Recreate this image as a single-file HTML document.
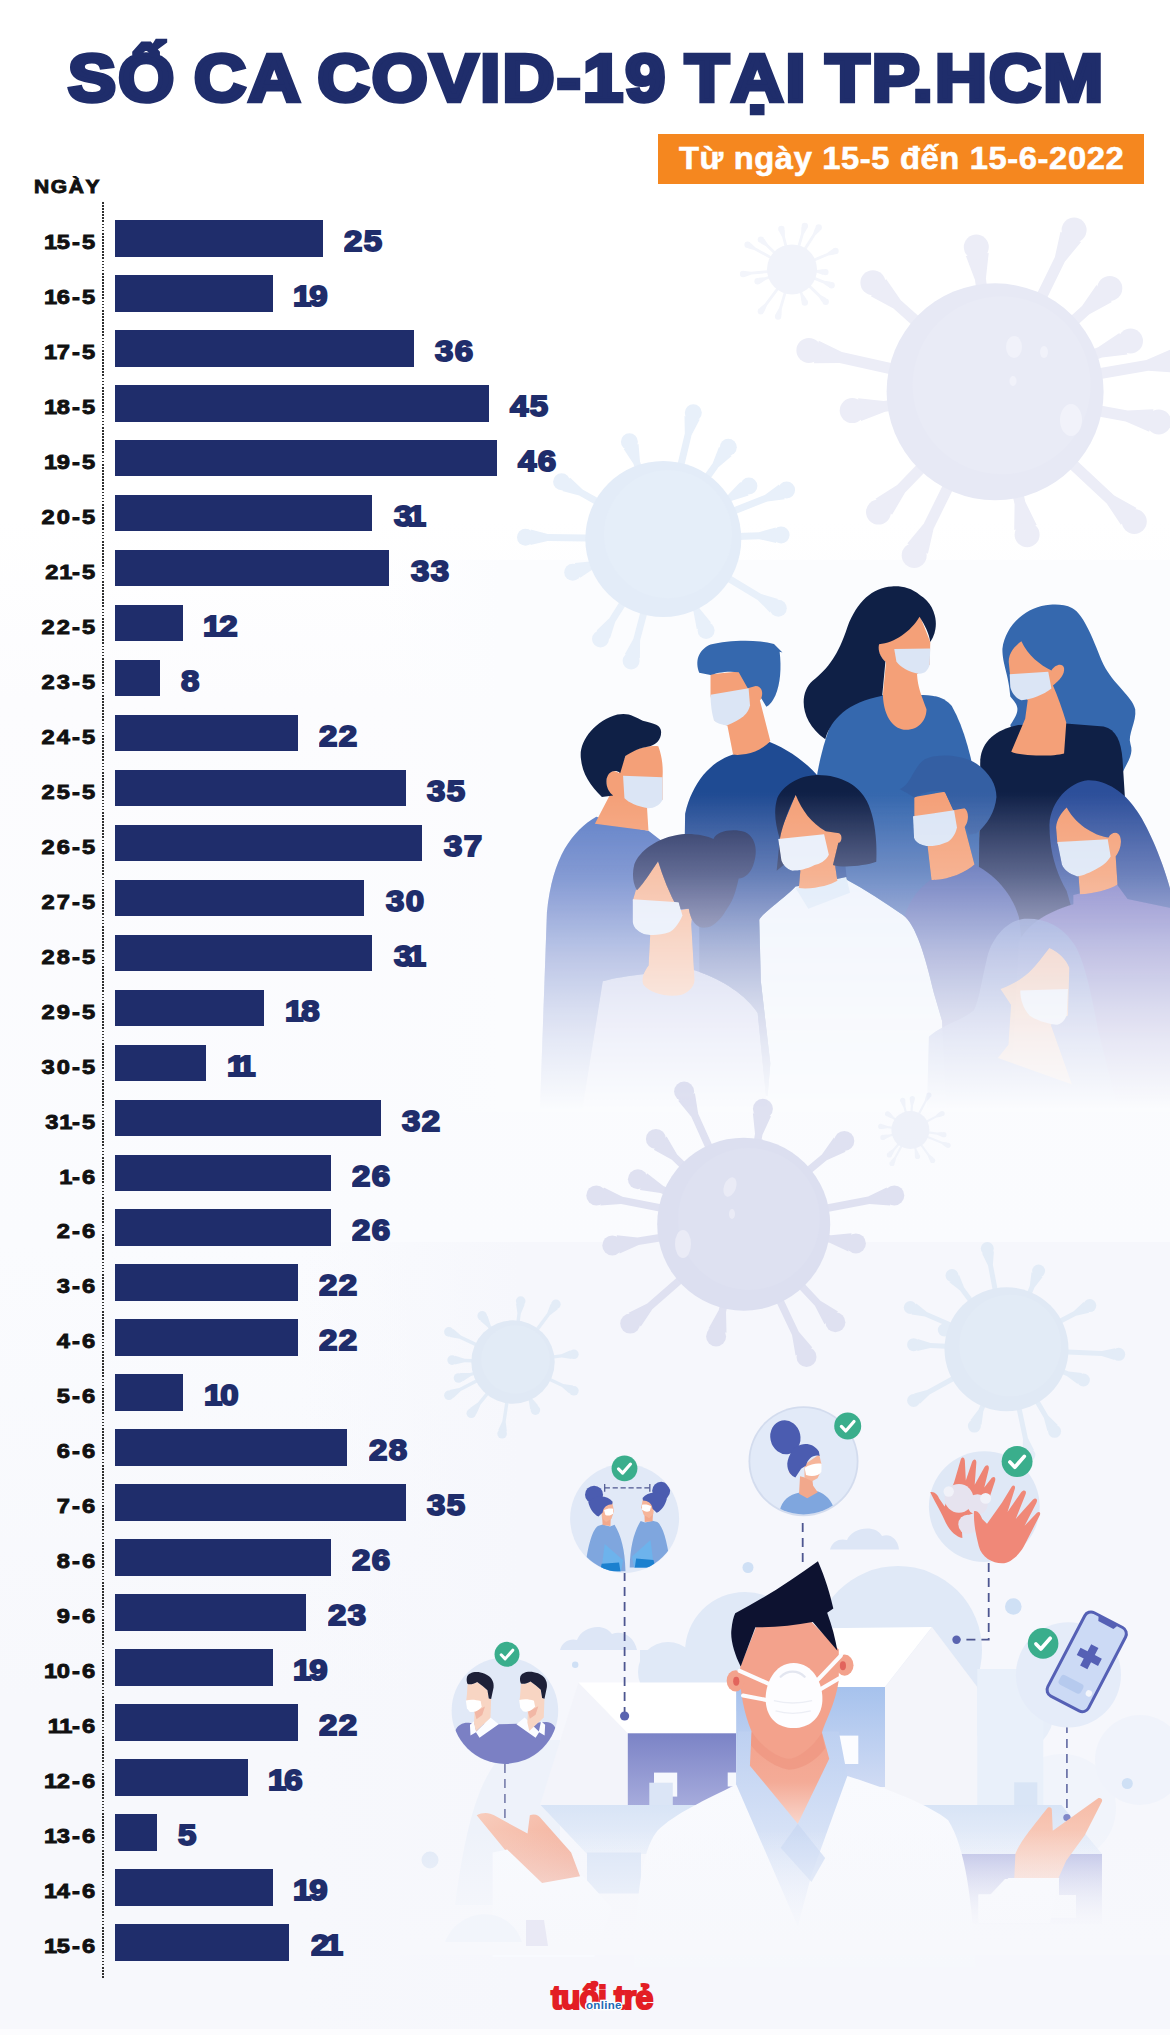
<!DOCTYPE html>
<html lang="vi"><head><meta charset="utf-8"><title>Số ca COVID-19 tại TP.HCM</title>
<style>
html,body{margin:0;padding:0}
body{width:1170px;height:2035px;position:relative;overflow:hidden;background:#f8f9fd;font-family:"Liberation Sans",sans-serif}
#bg{position:absolute;left:0;top:0;width:1170px;height:2035px;background:linear-gradient(to right,rgba(246,247,252,0) 300px,#f6f7fc 520px) 0 1242px/1170px 800px no-repeat,linear-gradient(to right,rgba(251,252,254,0) 380px,#fbfcfe 500px) 0 560px/1170px 552px no-repeat,linear-gradient(#ffffff 0px,#ffffff 520px,#fcfcfe 700px,#fafbfe 1242px,#f7f8fc 1700px,#f7f8fc 2035px)}
#art{position:absolute;left:0;top:0}
h1{position:absolute;left:68px;top:35.5px;margin:0;font-size:62.5px;line-height:76px;font-weight:bold;color:#1f2d6b;white-space:nowrap;transform-origin:0 0;transform:scale(1.15,1.08);-webkit-text-stroke:4.2px #1f2d6b;letter-spacing:2px;word-spacing:-4px}
#sub{position:absolute;left:658px;top:134.4px;width:485.5px;height:49.2px;background:#f5871f;color:#fff;font-weight:bold;font-size:32px;line-height:49.5px;text-align:center;white-space:nowrap}
#sub span{display:inline-block;-webkit-text-stroke:.6px #fff;letter-spacing:.6px;transform:scaleX(1.023);margin-left:2px}
#ngay{position:absolute;left:34px;top:175px;font-size:18.5px;line-height:24px;font-weight:bold;color:#111;letter-spacing:1.4px;-webkit-text-stroke:.9px #111;transform-origin:0 0;transform:scaleX(1.135)}
#axis{position:absolute;left:102.1px;top:202px;height:1777px;width:2px;background:repeating-linear-gradient(to bottom,#2e2e2e 0,#2e2e2e 1.7px,transparent 1.7px,transparent 3.08px)}
.d{position:absolute;left:0;width:97.2px;text-align:right;height:36px;line-height:44px;font-size:20.6px;font-weight:bold;color:#111;letter-spacing:1.8px;-webkit-text-stroke:.9px #111;white-space:nowrap;transform-origin:100% 50%;transform:scaleX(1.15)}
.b{position:absolute;left:115px;height:36.5px;background:#1f2d6b}
.v{position:absolute;height:36px;line-height:42.5px;font-size:30px;font-weight:bold;color:#1f2d6b;-webkit-text-stroke:1.9px #1f2d6b;letter-spacing:1.2px;white-space:nowrap;transform-origin:0 50%;transform:scaleX(1.1)}
.d i{font-style:normal;margin-left:-1px;margin-right:-2.2px}
.v i{font-style:normal;margin-left:-1px;margin-right:-3px}
.v i.s{margin-left:-5.5px}
#logo{position:absolute;left:551px;top:1971.5px;width:110px;height:50px;white-space:nowrap}
#logo b{position:absolute;left:0;top:0;font-size:34px;line-height:50px;color:#e31e24;-webkit-text-stroke:2.2px #e31e24;letter-spacing:-1px;transform-origin:0 0;transform:scaleX(.945)}
#logo i{position:absolute;left:35px;top:26.5px;text-shadow:1px 0 0 #fff,-1px 0 0 #fff,0 1px 0 #fff,0 -1px 0 #fff,1px 1px 0 #fff,-1px -1px 0 #fff,1px -1px 0 #fff,-1px 1px 0 #fff;font-size:11.5px;line-height:14px;font-weight:bold;font-style:normal;color:#1f6bb5;-webkit-text-stroke:2.5px #fff;paint-order:stroke fill;letter-spacing:.3px}
#btm{position:absolute;left:0;top:2029px;width:1170px;height:6px;background:#fcfcfe}
</style></head><body>
<div id="bg"></div>
<svg id="art" width="1170" height="2035" viewBox="0 0 1170 2035">
<defs>
<linearGradient id="fadeG" gradientUnits="userSpaceOnUse" x1="0" y1="795" x2="0" y2="1110">
<stop offset="0" stop-color="#fff"/><stop offset=".25" stop-color="#cfcfcf"/><stop offset=".5" stop-color="#7a7a7a"/><stop offset=".78" stop-color="#2c2c2c"/><stop offset="1" stop-color="#000"/></linearGradient>
<mask id="fadeM" maskUnits="userSpaceOnUse" x="500" y="500" width="700" height="700"><rect x="500" y="500" width="700" height="700" fill="url(#fadeG)"/></mask>
<linearGradient id="tintG" gradientUnits="userSpaceOnUse" x1="0" y1="790" x2="0" y2="1010">
<stop offset="0" stop-color="#8f90d2" stop-opacity="0"/><stop offset=".5" stop-color="#8f90d2" stop-opacity=".4"/><stop offset="1" stop-color="#a9a6dc" stop-opacity=".65"/></linearGradient>
<filter id="toWhite" color-interpolation-filters="sRGB"><feColorMatrix type="matrix" values="-1.6 0 0 0 1.3  -1.6 0 0 0 1.3  -1.6 0 0 0 1.3  0 0 0 1 0"/></filter>
<mask id="crowdM" maskUnits="userSpaceOnUse" x="500" y="500" width="700" height="700"><use href="#crowd" filter="url(#toWhite)"/></mask>
</defs>
<g id="viruses"><g fill="#ecedf7" stroke="#ecedf7" stroke-linecap="round"><path stroke="none" d="M1000.6,391.1 L985.9,278.5 L988.7,253.0 L965.9,255.9 L975.0,279.9 L989.6,392.5Z"/><circle cx="976.3" cy="247.0" r="12.5" stroke="none"/><path stroke="none" d="M1000.0,394.2 L1064.8,261.7 L1081.1,241.9 L1060.5,231.8 L1054.9,256.9 L990.2,389.4Z"/><circle cx="1074.1" cy="230.1" r="12.5" stroke="none"/><path stroke="none" d="M998.8,395.9 L1089.4,314.2 L1111.9,301.9 L1096.5,284.9 L1082.0,306.1 L991.4,387.7Z"/><circle cx="1109.8" cy="288.4" r="12.5" stroke="none"/><path stroke="none" d="M997.0,396.9 L1102.0,357.6 L1127.5,354.4 L1119.4,332.9 L1098.1,347.3 L993.2,386.7Z"/><circle cx="1130.5" cy="341.0" r="12.5" stroke="none"/><path stroke="none" d="M996.0,397.2 L1148.3,370.8 L1174.0,372.4 L1170.0,349.8 L1146.4,360.0 L994.2,386.4Z"/><circle cx="1179.4" cy="359.8" r="12.5" stroke="none"/><path stroke="none" d="M994.1,397.2 L1125.7,421.4 L1149.2,431.8 L1153.4,409.2 L1127.7,410.6 L996.1,386.4Z"/><circle cx="1158.7" cy="421.9" r="12.5" stroke="none"/><path stroke="none" d="M991.3,395.8 L1106.7,503.4 L1120.9,524.8 L1136.6,508.0 L1114.2,495.4 L998.9,387.8Z"/><circle cx="1134.3" cy="521.5" r="12.5" stroke="none"/><path stroke="none" d="M989.7,393.0 L1014.6,504.2 L1014.2,529.9 L1036.7,524.9 L1025.3,501.8 L1000.5,390.6Z"/><circle cx="1027.1" cy="534.7" r="12.5" stroke="none"/><path stroke="none" d="M990.2,389.4 L923.7,523.8 L907.3,543.6 L927.9,553.8 L933.6,528.7 L1000.0,394.2Z"/><circle cx="914.2" cy="555.4" r="12.5" stroke="none"/><path stroke="none" d="M991.1,388.0 L897.2,485.0 L875.5,498.8 L892.0,514.8 L905.1,492.6 L999.1,395.6Z"/><circle cx="878.5" cy="512.1" r="12.5" stroke="none"/><path stroke="none" d="M994.4,386.3 L883.7,400.9 L858.1,398.2 L861.1,421.0 L885.1,411.8 L995.8,397.3Z"/><circle cx="852.2" cy="410.6" r="12.5" stroke="none"/><path stroke="none" d="M996.3,386.4 L841.9,352.1 L818.8,340.8 L813.8,363.3 L839.5,362.9 L993.9,397.2Z"/><circle cx="808.9" cy="350.4" r="12.5" stroke="none"/><path stroke="none" d="M998.8,387.7 L900.8,300.3 L886.1,279.1 L870.8,296.3 L893.5,308.5 L991.4,395.9Z"/><circle cx="872.9" cy="282.7" r="12.5" stroke="none"/></g><circle cx="995.1" cy="391.8" r="108.5" fill="#e7e9f5"/><circle cx="1001.6" cy="385.3" r="89.0" fill="#e9ebf6"/>
<g fill="#e8f0fa" stroke="#e8f0fa" stroke-linecap="round"><path stroke="none" d="M666.7,539.7 L691.6,435.1 L699.7,419.6 L684.5,415.9 L684.8,433.5 L659.9,538.1Z"/><circle cx="693.3" cy="412.8" r="8.5" stroke="none"/><path stroke="none" d="M666.6,537.7 L640.0,461.4 L638.5,443.9 L623.7,449.1 L633.4,463.7 L660.0,540.1Z"/><circle cx="629.4" cy="441.7" r="8.5" stroke="none"/><path stroke="none" d="M666.2,540.9 L718.4,467.3 L731.7,455.9 L719.0,446.9 L712.7,463.2 L660.4,536.9Z"/><circle cx="728.3" cy="447.2" r="8.5" stroke="none"/><path stroke="none" d="M665.1,541.9 L731.9,500.7 L748.6,495.5 L740.4,482.1 L728.2,494.7 L661.5,535.9Z"/><circle cx="748.9" cy="486.1" r="8.5" stroke="none"/><path stroke="none" d="M664.6,542.2 L767.4,501.4 L784.8,499.2 L779.0,484.6 L764.8,494.9 L662.0,535.6Z"/><circle cx="786.6" cy="490.0" r="8.5" stroke="none"/><path stroke="none" d="M663.4,542.4 L759.1,539.2 L776.2,543.0 L775.7,527.4 L758.9,532.2 L663.2,535.4Z"/><circle cx="781.1" cy="535.0" r="8.5" stroke="none"/><path stroke="none" d="M661.5,541.9 L757.6,599.9 L769.9,612.4 L778.0,599.0 L761.2,593.9 L665.1,535.9Z"/><circle cx="778.3" cy="608.3" r="8.5" stroke="none"/><path stroke="none" d="M660.1,540.4 L693.6,612.0 L696.8,629.3 L711.0,622.6 L699.9,609.1 L666.5,537.4Z"/><circle cx="706.1" cy="630.6" r="8.5" stroke="none"/><path stroke="none" d="M659.9,538.0 L633.3,638.9 L624.8,654.2 L639.9,658.2 L640.1,640.6 L666.7,539.8Z"/><circle cx="631.1" cy="661.1" r="8.5" stroke="none"/><path stroke="none" d="M660.3,537.0 L609.3,618.3 L596.6,630.4 L609.9,638.7 L615.2,622.0 L666.3,540.8Z"/><circle cx="600.5" cy="638.9" r="8.5" stroke="none"/><path stroke="none" d="M662.1,535.6 L592.3,561.3 L574.8,563.1 L580.2,577.8 L594.7,567.9 L664.5,542.2Z"/><circle cx="572.7" cy="572.2" r="8.5" stroke="none"/><path stroke="none" d="M663.3,535.4 L547.7,534.0 L530.7,529.5 L530.5,545.1 L547.6,541.0 L663.3,542.4Z"/><circle cx="525.5" cy="537.2" r="8.5" stroke="none"/><path stroke="none" d="M665.0,535.8 L582.6,489.5 L569.9,477.4 L562.2,491.0 L579.2,495.6 L661.6,542.0Z"/><circle cx="561.6" cy="481.7" r="8.5" stroke="none"/></g><circle cx="663.3" cy="538.9" r="78.0" fill="#e3ecf8"/><circle cx="668.0" cy="534.2" r="64.0" fill="#e5eef9"/>
<g fill="#f3f5fb" stroke="#f3f5fb" stroke-linecap="round"><path stroke="none" d="M791.9,270.8 L817.0,272.8 L823.2,274.9 L823.7,269.0 L817.2,270.1 L792.1,268.0Z"/><circle cx="825.4" cy="272.1" r="3.2" stroke="none"/><path stroke="none" d="M791.5,270.7 L823.4,283.4 L828.8,287.2 L830.9,281.7 L824.4,280.8 L792.5,268.1Z"/><circle cx="831.6" cy="285.2" r="3.2" stroke="none"/><path stroke="none" d="M791.0,270.4 L818.7,296.9 L822.3,302.5 L826.4,298.2 L820.7,294.9 L793.0,268.4Z"/><circle cx="825.7" cy="301.7" r="3.2" stroke="none"/><path stroke="none" d="M790.7,269.9 L800.5,295.2 L801.4,301.8 L806.9,299.6 L803.1,294.2 L793.3,268.9Z"/><circle cx="804.8" cy="302.5" r="3.2" stroke="none"/><path stroke="none" d="M790.7,269.0 L779.1,308.1 L775.8,313.8 L781.5,315.5 L781.8,308.9 L793.3,269.8Z"/><circle cx="778.1" cy="316.5" r="3.2" stroke="none"/><path stroke="none" d="M790.9,268.6 L764.7,303.7 L759.7,307.9 L764.4,311.5 L767.0,305.4 L793.1,270.2Z"/><circle cx="760.9" cy="311.2" r="3.2" stroke="none"/><path stroke="none" d="M791.5,268.1 L765.1,277.2 L758.5,277.8 L760.4,283.4 L766.0,279.8 L792.5,270.7Z"/><circle cx="757.6" cy="281.2" r="3.2" stroke="none"/><path stroke="none" d="M791.9,268.0 L751.2,271.8 L744.7,270.9 L745.3,276.7 L751.5,274.6 L792.1,270.8Z"/><circle cx="743.1" cy="274.0" r="3.2" stroke="none"/><path stroke="none" d="M792.7,268.2 L755.5,247.5 L750.7,243.1 L747.8,248.2 L754.1,250.0 L791.3,270.6Z"/><circle cx="747.6" cy="244.7" r="3.2" stroke="none"/><path stroke="none" d="M793.0,268.4 L767.9,244.3 L764.3,238.8 L760.2,243.0 L765.9,246.3 L791.0,270.4Z"/><circle cx="760.9" cy="239.6" r="3.2" stroke="none"/><path stroke="none" d="M793.4,269.0 L784.9,236.6 L784.8,230.1 L779.1,231.5 L782.2,237.3 L790.6,269.8Z"/><circle cx="781.4" cy="228.9" r="3.2" stroke="none"/><path stroke="none" d="M793.3,269.8 L803.8,234.3 L807.1,228.6 L801.4,227.0 L801.1,233.5 L790.7,269.0Z"/><circle cx="804.8" cy="226.0" r="3.2" stroke="none"/><path stroke="none" d="M793.2,270.2 L815.4,235.2 L820.1,230.7 L815.2,227.5 L813.0,233.7 L790.8,268.6Z"/><circle cx="818.7" cy="227.5" r="3.2" stroke="none"/><path stroke="none" d="M792.5,270.7 L828.4,255.5 L834.9,254.4 L832.6,249.0 L827.3,252.9 L791.5,268.1Z"/><circle cx="835.5" cy="251.0" r="3.2" stroke="none"/></g><circle cx="792.0" cy="269.4" r="25.0" fill="#f1f3fa"/>
<g fill="#dfe1f1" stroke="#dfe1f1" stroke-linecap="round"><path stroke="none" d="M747.1,1222.7 L698.2,1113.7 L694.9,1093.2 L678.2,1100.8 L691.3,1116.8 L740.3,1225.7Z"/><circle cx="684.1" cy="1091.5" r="10" stroke="none"/><path stroke="none" d="M747.4,1224.8 L762.4,1135.1 L771.0,1116.2 L752.9,1113.2 L755.0,1133.8 L740.0,1223.6Z"/><circle cx="762.9" cy="1108.8" r="10" stroke="none"/><path stroke="none" d="M746.3,1221.5 L677.1,1154.4 L666.6,1136.5 L653.8,1149.7 L671.9,1159.7 L741.1,1226.9Z"/><circle cx="655.9" cy="1138.9" r="10" stroke="none"/><path stroke="none" d="M746.1,1227.1 L826.7,1160.3 L845.6,1151.8 L833.9,1137.6 L821.9,1154.6 L741.3,1221.3Z"/><circle cx="844.3" cy="1140.9" r="10" stroke="none"/><path stroke="none" d="M745.2,1220.7 L663.3,1186.0 L647.0,1173.2 L639.9,1190.1 L660.4,1192.9 L742.2,1227.7Z"/><circle cx="637.9" cy="1179.3" r="10" stroke="none"/><path stroke="none" d="M744.4,1220.5 L622.5,1196.7 L603.9,1187.5 L600.4,1205.5 L621.1,1204.0 L743.0,1227.9Z"/><circle cx="596.3" cy="1195.4" r="10" stroke="none"/><path stroke="none" d="M744.4,1227.9 L869.5,1203.9 L890.2,1205.5 L886.7,1187.4 L868.1,1196.6 L743.0,1220.5Z"/><circle cx="894.3" cy="1195.4" r="10" stroke="none"/><path stroke="none" d="M743.1,1220.5 L637.4,1237.5 L616.8,1235.3 L619.7,1253.5 L638.6,1244.9 L744.3,1227.9Z"/><circle cx="612.3" cy="1245.4" r="10" stroke="none"/><path stroke="none" d="M743.1,1227.9 L829.6,1242.7 L848.4,1251.5 L851.5,1233.3 L830.9,1235.3 L744.3,1220.5Z"/><circle cx="855.9" cy="1243.4" r="10" stroke="none"/><path stroke="none" d="M741.2,1221.4 L647.3,1303.6 L628.7,1312.7 L640.8,1326.5 L652.3,1309.3 L746.2,1227.0Z"/><circle cx="630.2" cy="1323.6" r="10" stroke="none"/><path stroke="none" d="M740.1,1223.3 L718.7,1310.2 L708.6,1328.4 L726.5,1332.7 L726.0,1312.0 L747.3,1225.1Z"/><circle cx="716.1" cy="1336.4" r="10" stroke="none"/><path stroke="none" d="M740.3,1225.8 L792.0,1335.0 L795.6,1355.4 L812.3,1347.5 L798.8,1331.8 L747.1,1222.6Z"/><circle cx="806.5" cy="1356.9" r="10" stroke="none"/><path stroke="none" d="M741.0,1226.8 L814.9,1305.8 L824.5,1324.2 L838.0,1311.6 L820.4,1300.7 L746.4,1221.6Z"/><circle cx="835.4" cy="1322.3" r="10" stroke="none"/></g><circle cx="743.7" cy="1224.2" r="86.5" fill="#dcdff0"/><circle cx="748.9" cy="1219.0" r="70.9" fill="#dee1f1"/>
<g fill="#e3ecf7" stroke="#e3ecf7" stroke-linecap="round"><path stroke="none" d="M514.7,1362.2 L520.8,1313.7 L524.7,1304.5 L516.0,1303.4 L517.4,1313.3 L511.3,1361.8Z"/><circle cx="520.7" cy="1301.1" r="4.8" stroke="none"/><path stroke="none" d="M514.4,1363.0 L549.9,1315.3 L557.8,1309.3 L550.7,1304.0 L547.1,1313.3 L511.6,1361.0Z"/><circle cx="555.9" cy="1304.3" r="4.8" stroke="none"/><path stroke="none" d="M514.4,1361.1 L490.6,1325.3 L487.5,1315.8 L480.2,1320.7 L487.7,1327.2 L511.6,1362.9Z"/><circle cx="482.2" cy="1315.8" r="4.8" stroke="none"/><path stroke="none" d="M513.7,1360.5 L460.9,1335.6 L453.4,1329.1 L449.6,1337.1 L459.5,1338.7 L512.3,1363.5Z"/><circle cx="448.9" cy="1331.9" r="4.8" stroke="none"/><path stroke="none" d="M513.2,1363.7 L561.7,1357.6 L571.6,1359.0 L570.5,1350.3 L561.3,1354.2 L512.8,1360.3Z"/><circle cx="573.9" cy="1354.3" r="4.8" stroke="none"/><path stroke="none" d="M513.1,1360.3 L464.6,1358.8 L455.1,1355.8 L454.8,1364.6 L464.5,1362.2 L512.9,1363.7Z"/><circle cx="452.1" cy="1360.1" r="4.8" stroke="none"/><path stroke="none" d="M512.3,1363.5 L561.9,1387.0 L569.4,1393.6 L573.2,1385.6 L563.3,1384.0 L513.7,1360.5Z"/><circle cx="573.9" cy="1390.8" r="4.8" stroke="none"/><path stroke="none" d="M512.2,1360.5 L459.2,1388.1 L449.4,1390.1 L453.5,1397.9 L460.8,1391.1 L513.8,1363.5Z"/><circle cx="448.9" cy="1395.3" r="4.8" stroke="none"/><path stroke="none" d="M511.5,1362.7 L528.6,1399.5 L530.2,1409.3 L538.2,1405.6 L531.7,1398.0 L514.5,1361.3Z"/><circle cx="535.4" cy="1410.1" r="4.8" stroke="none"/><path stroke="none" d="M511.3,1361.7 L502.3,1421.2 L498.2,1430.3 L506.9,1431.6 L505.7,1421.7 L514.7,1362.3Z"/><circle cx="502.1" cy="1433.8" r="4.8" stroke="none"/><path stroke="none" d="M511.7,1360.9 L477.9,1402.5 L469.7,1408.3 L476.6,1413.8 L480.5,1404.7 L514.3,1363.1Z"/><circle cx="471.3" cy="1413.3" r="4.8" stroke="none"/><path stroke="none" d="M512.5,1360.4 L470.0,1372.9 L460.0,1373.0 L462.5,1381.4 L471.0,1376.1 L513.5,1363.6Z"/><circle cx="458.5" cy="1378.0" r="4.8" stroke="none"/></g><circle cx="513.0" cy="1362.0" r="41.7" fill="#e0e9f5"/><circle cx="515.5" cy="1359.5" r="34.2" fill="#e2ebf6"/>
<g fill="#e3ecf7" stroke="#e3ecf7" stroke-linecap="round"><path stroke="none" d="M1009.0,1348.7 L992.9,1264.7 L993.9,1251.3 L982.1,1253.5 L988.0,1265.6 L1004.0,1349.7Z"/><circle cx="987.3" cy="1248.6" r="6.5" stroke="none"/><path stroke="none" d="M1008.8,1350.1 L1034.5,1287.6 L1042.6,1276.9 L1031.5,1272.3 L1029.8,1285.7 L1004.2,1348.3Z"/><circle cx="1038.6" cy="1271.0" r="6.5" stroke="none"/><path stroke="none" d="M1008.5,1347.7 L964.1,1287.6 L959.1,1275.1 L949.5,1282.2 L960.0,1290.6 L1004.5,1350.7Z"/><circle cx="952.0" cy="1275.5" r="6.5" stroke="none"/><path stroke="none" d="M1007.7,1351.4 L1076.0,1315.7 L1089.1,1312.7 L1083.6,1302.1 L1073.7,1311.2 L1005.3,1347.0Z"/><circle cx="1089.8" cy="1305.6" r="6.5" stroke="none"/><path stroke="none" d="M1007.5,1346.9 L926.8,1312.0 L916.3,1303.6 L911.5,1314.6 L924.9,1316.5 L1005.5,1351.5Z"/><circle cx="910.3" cy="1307.5" r="6.5" stroke="none"/><path stroke="none" d="M1006.4,1351.7 L1101.7,1356.1 L1114.5,1360.1 L1115.1,1348.2 L1101.9,1351.1 L1006.6,1346.7Z"/><circle cx="1118.7" cy="1354.3" r="6.5" stroke="none"/><path stroke="none" d="M1006.6,1346.7 L930.6,1343.0 L917.7,1338.9 L917.2,1350.9 L930.3,1348.0 L1006.4,1351.7Z"/><circle cx="913.6" cy="1344.7" r="6.5" stroke="none"/><path stroke="none" d="M1005.6,1351.5 L1066.8,1376.0 L1077.6,1384.1 L1082.0,1373.0 L1068.7,1371.4 L1007.4,1346.9Z"/><circle cx="1083.4" cy="1380.0" r="6.5" stroke="none"/><path stroke="none" d="M1005.3,1347.0 L927.1,1390.1 L914.1,1393.4 L919.9,1403.8 L929.6,1394.5 L1007.7,1351.4Z"/><circle cx="913.6" cy="1400.5" r="6.5" stroke="none"/><path stroke="none" d="M1004.3,1350.5 L1043.9,1417.9 L1047.4,1430.9 L1057.8,1424.9 L1048.2,1415.4 L1008.7,1347.9Z"/><circle cx="1054.6" cy="1431.3" r="6.5" stroke="none"/><path stroke="none" d="M1004.1,1349.7 L1023.0,1439.0 L1022.3,1452.4 L1034.0,1449.9 L1027.9,1437.9 L1008.9,1348.7Z"/><circle cx="1028.9" cy="1455.0" r="6.5" stroke="none"/><path stroke="none" d="M1004.2,1348.2 L978.6,1409.6 L970.4,1420.2 L981.5,1424.8 L983.3,1411.5 L1008.8,1350.2Z"/><circle cx="974.4" cy="1426.1" r="6.5" stroke="none"/><path stroke="none" d="M1007.2,1346.8 L961.2,1332.6 L949.8,1325.4 L946.3,1336.8 L959.7,1337.4 L1005.8,1351.6Z"/><circle cx="944.3" cy="1330.0" r="6.5" stroke="none"/></g><circle cx="1006.5" cy="1349.2" r="62.0" fill="#e0e9f5"/><circle cx="1010.2" cy="1345.5" r="50.8" fill="#e2ebf6"/>
<g fill="#f0f3fa" stroke="#f0f3fa" stroke-linecap="round"><path stroke="none" d="M910.2,1131.1 L937.0,1134.8 L942.0,1136.8 L942.7,1132.1 L937.3,1132.6 L910.6,1128.9Z"/><circle cx="943.9" cy="1134.7" r="2.6" stroke="none"/><path stroke="none" d="M910.0,1131.0 L941.4,1143.8 L945.7,1147.0 L947.5,1142.5 L942.2,1141.8 L910.8,1129.0Z"/><circle cx="948.1" cy="1145.3" r="2.6" stroke="none"/><path stroke="none" d="M909.5,1130.6 L927.7,1155.7 L929.8,1160.7 L933.6,1157.8 L929.5,1154.4 L911.3,1129.4Z"/><circle cx="932.6" cy="1160.5" r="2.6" stroke="none"/><path stroke="none" d="M909.3,1130.3 L914.7,1150.3 L914.8,1155.7 L919.4,1154.4 L916.8,1149.7 L911.5,1129.7Z"/><circle cx="917.5" cy="1156.5" r="2.6" stroke="none"/><path stroke="none" d="M909.4,1129.5 L894.3,1157.0 L890.6,1161.0 L894.8,1163.3 L896.2,1158.1 L911.4,1130.5Z"/><circle cx="892.0" cy="1163.5" r="2.6" stroke="none"/><path stroke="none" d="M909.6,1129.3 L892.9,1149.0 L888.5,1152.1 L892.2,1155.2 L894.6,1150.4 L911.2,1130.7Z"/><circle cx="889.4" cy="1154.9" r="2.6" stroke="none"/><path stroke="none" d="M910.1,1128.9 L889.1,1134.6 L883.7,1134.7 L885.0,1139.3 L889.7,1136.7 L910.7,1131.1Z"/><circle cx="882.9" cy="1137.4" r="2.6" stroke="none"/><path stroke="none" d="M910.5,1128.9 L887.5,1126.1 L882.5,1124.2 L881.9,1128.9 L887.2,1128.3 L910.3,1131.1Z"/><circle cx="880.7" cy="1126.4" r="2.6" stroke="none"/><path stroke="none" d="M911.0,1129.1 L893.8,1116.9 L890.3,1112.8 L887.5,1116.7 L892.5,1118.7 L909.8,1130.9Z"/><circle cx="887.6" cy="1113.8" r="2.6" stroke="none"/><path stroke="none" d="M911.5,1129.7 L905.5,1106.6 L905.4,1101.3 L900.8,1102.5 L903.4,1107.2 L909.3,1130.3Z"/><circle cx="902.7" cy="1100.3" r="2.6" stroke="none"/><path stroke="none" d="M911.5,1130.1 L913.0,1105.5 L914.6,1100.4 L909.8,1100.1 L910.8,1105.4 L909.3,1129.9Z"/><circle cx="912.3" cy="1098.7" r="2.6" stroke="none"/><path stroke="none" d="M911.4,1130.5 L926.7,1101.5 L930.3,1097.5 L926.1,1095.2 L924.8,1100.4 L909.4,1129.5Z"/><circle cx="928.9" cy="1095.0" r="2.6" stroke="none"/><path stroke="none" d="M910.9,1131.0 L936.6,1117.6 L941.8,1116.4 L939.6,1112.1 L935.5,1115.7 L909.9,1129.0Z"/><circle cx="942.1" cy="1113.5" r="2.6" stroke="none"/></g><circle cx="910.4" cy="1130.0" r="19.0" fill="#eef1f9"/>
<g fill="#f1f2fa"><ellipse cx="1014" cy="347" rx="8" ry="11"/><ellipse cx="1044" cy="352" rx="4" ry="6"/><ellipse cx="1071" cy="420" rx="11" ry="16"/><ellipse cx="1013" cy="381" rx="3.5" ry="5"/></g><g fill="#eaebf6"><ellipse cx="730" cy="1187" rx="6" ry="10" transform="rotate(20 730 1187)"/><ellipse cx="683" cy="1244" rx="8" ry="14"/><ellipse cx="732" cy="1214" rx="3" ry="5"/></g></g>
<g mask="url(#fadeM)">
<g id="crowd">
<!-- P2 dark-hair woman : zoom origin (800,570) scale .3162 -->
<g transform="translate(800,570) scale(.31624)">
<path fill="#3568ae" d="M250,395 C190,400 130,420 100,480 C70,560 50,640 40,760 L20,1400 L600,1400 L560,700 C545,600 520,500 480,430 C455,400 420,395 375,395Z"/>
<path fill="#f4a078" d="M375,135 C350,180 300,220 240,225 C245,260 262,285 272,292 L262,395 C265,470 300,505 335,505 C380,505 400,470 400,440 C385,400 372,370 370,330 L410,300 L412,228Z"/>
<path fill="#0f2046" d="M290,52 C230,55 180,100 150,180 C120,270 90,310 40,350 C-5,390 0,480 80,535 C100,470 150,420 260,398 L270,290 C255,275 245,255 250,235 C300,230 350,195 378,148 C395,175 408,200 412,228 C445,180 430,110 380,80 C350,55 320,50 290,52Z"/>
<path fill="#dbe5f5" d="M298,250 L412,248 L410,300 C405,320 390,330 375,328 C345,322 318,308 305,290Z"/>
</g>
<!-- P3 blue long-hair woman -->
<g transform="translate(800,570) scale(.31624)">
<path fill="#3568ae" d="M790,110 C720,115 650,170 640,250 C640,300 660,330 665,400 C690,430 700,440 665,490 L700,620 L1020,640 C1040,600 1055,580 1045,550 C1035,520 1065,480 1060,440 C1050,400 990,360 960,300 C930,230 900,140 860,120 C840,110 815,108 790,110Z"/>
<path fill="#0f2046" d="M570,600 C575,540 620,505 690,490 L840,485 L960,495 C1000,505 1015,540 1020,600 L1030,760 L1040,1400 L560,1400Z"/>
<path fill="#f4a078" d="M700,225 C680,240 660,260 660,290 L665,340 L720,412 L712,470 L668,575 C700,590 800,590 835,580 L842,482 C830,440 815,400 800,365 C820,350 838,330 835,310 C830,292 805,300 795,318 C760,300 720,270 700,225Z"/>
<path fill="#dbe5f5" d="M663,330 L785,322 L795,375 C770,395 730,410 700,412 C680,405 668,385 665,370Z"/>
</g>
<!-- P1 blue-hair man : zoom origin (530,560) scale .2821 -->
<g transform="translate(530,560) scale(.28205)">
<path fill="#1f4b93" d="M720,690 C640,715 575,790 550,900 L535,1900 L1200,1900 L1100,900 C1060,780 960,690 850,645Z"/>
<path fill="#f4a078" d="M640,405 L740,395 L770,440 C790,440 815,430 825,450 C832,475 825,490 815,497 L852,642 C820,680 760,695 720,690 L700,588 L655,570 L640,480Z"/>
<path fill="#3568ae" d="M600,400 C585,360 595,320 640,300 C700,285 800,280 865,298 L895,328 L885,325 C892,380 888,440 870,480 C860,500 850,515 838,520 L820,490 C828,470 822,448 800,447 L772,455 L740,398 C700,392 660,400 640,408Z"/>
<path fill="#dbe5f5" d="M640,478 L775,455 L780,515 C775,545 750,565 700,586 C680,585 660,578 652,568 C645,545 640,510 640,478Z"/>
</g>
<!-- P5 blue-hair man centre : origin (860,740) scale .26496 -->
<g transform="translate(860,740) scale(.26496)">
<path fill="#4a62ad" d="M270,525 C210,570 175,620 160,700 L120,1500 L700,1500 L600,670 C580,600 530,520 430,468Z"/>
<path fill="#f4a078" d="M205,215 L320,195 L352,262 C375,250 400,250 410,275 C415,300 405,320 395,328 L432,470 C400,500 330,530 270,528 L255,400 L205,370Z"/>
<path fill="#345fa3" d="M150,185 C190,170 200,110 235,80 C270,50 380,50 440,90 C490,125 515,170 515,215 C510,270 480,320 440,352 L412,358 L398,325 C412,300 410,270 395,258 L352,265 L322,198 C290,185 240,195 205,218 C180,200 165,195 150,185Z"/>
<path fill="#dbe5f5" d="M200,288 L355,265 L366,330 C360,360 340,380 330,385 C300,398 270,402 250,400 C225,395 208,385 204,368Z"/>
</g>
<!-- P6 blue hair woman right -->
<g transform="translate(860,740) scale(.26496)">
<path fill="#2c4f9a" d="M860,152 C790,160 720,230 715,320 C715,420 740,500 780,570 L800,640 L1200,660 L1170,560 C1140,450 1080,310 1040,260 C1000,200 930,150 860,152Z"/>
<path fill="#7d7cc4" d="M805,585 L970,545 L1010,600 L1200,640 L1200,1500 L560,1500 L600,760 C630,700 700,650 805,620Z"/>
<path fill="#f4a078" d="M780,255 C760,275 742,300 740,330 L745,390 L825,515 L830,582 C880,580 940,565 972,545 L965,440 C980,420 990,390 982,365 C975,345 950,345 938,368 C900,365 820,330 780,255Z"/>
<path fill="#dbe5f5" d="M745,385 L935,375 L946,440 C930,465 915,475 900,482 C870,500 840,512 820,515 C790,505 770,490 762,470Z"/>
</g>
<!-- P4 dark-hair man left : origin (530,560) scale .28205 for head; -->
<g transform="translate(530,560) scale(.28205)">
<path fill="#5b7ec6" d="M235,910 C150,960 80,1050 60,1250 L30,2100 L600,2100 L600,1100 L420,960 L370,950Z"/>
<path fill="#f4a078" d="M340,690 C370,670 420,655 455,660 C470,700 472,740 470,770 L470,850 L415,880 L420,960 L230,935 L285,830 C270,810 268,790 272,770 C280,745 300,745 315,755Z"/>
<path fill="#0f2046" d="M180,700 C175,640 230,570 310,548 C350,540 370,555 400,570 C440,580 465,585 465,610 C465,640 445,655 425,660 C390,665 360,680 338,695 L320,755 C300,740 278,750 272,775 C268,800 278,822 295,835 L255,840 C215,800 185,760 180,700Z"/>
<path fill="#dbe5f5" d="M330,765 L470,770 L470,850 C460,870 440,880 420,880 C380,875 350,860 335,845Z"/>
</g>
<!-- P8 bob-hair woman white top : origin (530,760) scale .31624 -->
<g transform="translate(530,760) scale(.31624)">
<path fill="#eef3fc" d="M840,400 C790,450 740,480 725,505 L730,700 L760,960 L740,1200 L1320,1200 L1303,825 L1277,737 C1250,620 1220,520 1179,490 C1120,450 1060,410 1000,378Z"/>
<path fill="#dde9f8" d="M840,405 L1000,370 L1012,420 L880,470Z"/>
<path fill="#f4a078" d="M840,110 L790,230 L790,260 L855,350 L850,405 C900,410 950,395 972,382 L965,335 L990,235 L920,210Z"/>
<path fill="#0f2046" d="M900,48 C850,50 800,80 782,120 C770,160 775,200 790,250 C800,200 820,150 840,110 C860,160 890,200 935,225 L978,232 C990,240 985,262 975,262 L958,332 C990,342 1060,335 1095,322 C1098,250 1090,180 1065,130 C1040,80 980,45 900,48Z M790,250 L780,350 L805,330Z"/>
<path fill="#e8eef9" d="M785,250 L930,235 L945,300 C935,320 915,330 900,332 C875,345 850,350 830,350 C810,345 800,330 795,318Z"/>
</g>
<!-- P7 bun girl -->
<g transform="translate(530,760) scale(.31624)">
<path fill="#c3c8ea" d="M230,700 C300,680 420,670 520,665 C600,690 680,740 720,800 L760,1200 L150,1200Z"/>
<path fill="#f6b596" d="M405,320 L335,410 L325,445 L380,555 L375,650 C360,670 352,690 358,710 C380,740 440,752 480,742 C510,730 522,710 520,690 L510,520 L515,468 L470,475Z"/>
<path fill="#1b2a55" d="M330,330 C345,290 400,245 480,235 C520,232 560,240 580,250 C590,225 640,215 680,228 C715,245 722,290 705,335 C695,360 680,372 660,375 C650,420 640,450 620,475 C600,510 575,530 555,530 C530,532 510,515 502,470 L468,472 C440,420 420,370 405,320 C385,350 360,390 338,412 C325,390 322,360 330,330Z"/>
<path fill="#e4ebf8" d="M325,440 L470,450 L482,492 C470,520 455,538 440,545 C410,555 380,555 360,550 C335,540 325,525 325,510Z"/>
</g>
<!-- P9 faded woman bottom right -->
<g transform="translate(860,740) scale(.26496)" opacity=".9">
<path fill="#7f97d3" d="M620,675 C560,680 500,740 480,820 C460,900 450,980 430,1020 C380,1060 300,1080 260,1120 L250,1500 L1000,1500 L900,1100 C880,1000 850,820 800,760 C760,700 690,670 620,675Z"/>
<path fill="#f8c4a8" d="M715,785 C670,840 640,900 530,940 L570,1000 L560,1150 L520,1200 L800,1300 L720,1075 L785,1040 L790,860 C780,830 750,800 715,785Z"/>
<path fill="#eef2fb" d="M605,945 L785,940 L780,1040 C770,1065 755,1075 740,1075 C700,1070 660,1055 640,1040 C615,1010 605,980 605,945Z"/>
</g>
</g>

<rect x="500" y="740" width="700" height="400" fill="url(#tintG)" mask="url(#crowdM)"/>
</g>
<defs>
<linearGradient id="gPurple" x1="0" y1="0" x2="0" y2="1"><stop offset="0" stop-color="#7b83c6"/><stop offset="1" stop-color="#a6abdc"/></linearGradient>
<linearGradient id="gBlueB" x1="0" y1="0" x2="0" y2="1"><stop offset="0" stop-color="#a6c2ed"/><stop offset="1" stop-color="#d0dbf4"/></linearGradient>
<linearGradient id="gBand" x1="0" y1="0" x2="0" y2="1"><stop offset="0" stop-color="#d8e4f6"/><stop offset="1" stop-color="#e9effa"/></linearGradient>
<linearGradient id="gPur2" x1="0" y1="0" x2="0" y2="1"><stop offset="0" stop-color="#bbbfe5"/><stop offset="1" stop-color="#f1f2fa"/></linearGradient>
<linearGradient id="gFace" x1="0" y1="0" x2="0" y2="1"><stop offset="0" stop-color="#f3a28c"/><stop offset=".55" stop-color="#f4ab97"/><stop offset="1" stop-color="#f9d6cc"/></linearGradient>
<linearGradient id="gHandL" x1="0" y1="0" x2="1" y2="1"><stop offset="0" stop-color="#f8cdbd"/><stop offset="1" stop-color="#f2a690"/></linearGradient>
<linearGradient id="gHandR" x1="0" y1="0" x2="0" y2="1"><stop offset="0" stop-color="#f6bba6"/><stop offset="1" stop-color="#f9d8cd"/></linearGradient>
<linearGradient id="gCoat" x1="0" y1="0" x2="0" y2="1"><stop offset="0" stop-color="#f9fafe"/><stop offset="1" stop-color="#f6f8fc"/></linearGradient>
<linearGradient id="gShirt" x1="0" y1="0" x2="0" y2="1"><stop offset="0" stop-color="#bdd0f1"/><stop offset="1" stop-color="#eef2fb"/></linearGradient>
<linearGradient id="gBottom" gradientUnits="userSpaceOnUse" x1="0" y1="1830" x2="0" y2="1945"><stop offset="0" stop-color="#f7f8fc" stop-opacity="0"/><stop offset="1" stop-color="#f7f8fc" stop-opacity="1"/></linearGradient>
<symbol id="chk" viewBox="-16 -16 32 32" overflow="visible"><circle r="15" fill="#3aae8c"/><path d="M-7,0.5 L-2.2,5.5 L7,-5" fill="none" stroke="#fff" stroke-width="3.6" stroke-linecap="round" stroke-linejoin="round"/></symbol>
</defs>
<g id="scene">
<!-- clouds -->
<g fill="#e0e9f7">
<circle cx="898" cy="1650" r="84"/>
<circle cx="745" cy="1652" r="60"/>
<circle cx="668" cy="1672" r="30"/>
<rect x="640" y="1650" width="340" height="60"/>
<path d="M560,1650 C562,1642 570,1638 577,1640 C582,1626 604,1622 612,1634 C622,1630 634,1636 637,1650Z" fill="#dde6f6"/>
<path d="M830,1549.5 C832,1541 840,1538 847,1540 C852,1527 876,1524 882,1536 C891,1533 898,1540 899,1549.5Z" fill="#dde6f6"/>
</g>
<circle cx="1012" cy="1712" r="42" fill="#e7eef9"/>
<circle cx="1062" cy="1808" r="54" fill="#f1f4fb"/>
<circle cx="1140" cy="1760" r="45" fill="#f0f3fb"/>
<path d="M455,1905 C470,1790 490,1760 520,1740 L560,1740 L560,1905Z" fill="#eef2fa"/>
<!-- small dots -->
<g fill="#cfe0f5"><circle cx="748" cy="1567.5" r="5.5"/><circle cx="1013.3" cy="1606.5" r="8.3"/><circle cx="1127.3" cy="1783.5" r="5.5"/><circle cx="575.2" cy="1664.7" r="3.2"/><circle cx="430" cy="1860" r="8.5" fill="#dfe8f6"/></g>
<!-- houses -->
<path d="M578.4,1682.5 L627.8,1733 L627.8,1805 L540,1805 Z" fill="#f3f4fa"/>
<path d="M578.4,1682.5 L736.2,1682.5 L736.2,1733.3 L627.8,1733.3Z" fill="#ffffff"/>
<rect x="627.8" y="1733.3" width="108.4" height="71.7" fill="url(#gPurple)"/>
<rect x="654" y="1772.6" width="23.2" height="24" fill="#f6f8fd"/>
<rect x="649.3" y="1782.7" width="23.5" height="22.3" fill="#dbe5f6"/>
<rect x="727.7" y="1772.5" width="8.5" height="14" fill="#f6f8fd"/>
<rect x="736.2" y="1687" width="148.8" height="100" fill="url(#gBlueB)"/>
<rect x="834.7" y="1735.6" width="23.6" height="28.4" fill="#fbfcff"/>
<path d="M800,1628.5 L932,1627 L885,1687 L753,1687Z" fill="#ffffff"/>
<path d="M932,1627 L977.3,1687 L977.3,1805 L885,1805 L885,1687Z" fill="#f4f5fa"/>
<rect x="977.3" y="1669" width="66" height="136" fill="#e9f0fa"/>
<rect x="1014.2" y="1782.3" width="23.1" height="24" fill="#d9e5f6"/>
<!-- base bands -->
<path d="M540.6,1805 L1061.5,1805 L1102,1854 L587,1854Z" fill="url(#gBand)"/>
<rect x="587" y="1852.5" width="54" height="41" fill="#d9e4f6"/>
<rect x="960" y="1854" width="142" height="70" fill="url(#gPur2)"/>
<path d="M978.5,1895 L990,1895 L1005,1879 L1059,1879 L1059,1895 L1076,1895 L1076,1918 L978.5,1918Z" fill="#f8f9fd"/>
<!-- dashed connectors -->
<g fill="none" stroke="#4d5690" stroke-width="1.8" stroke-dasharray="9 6">
<path d="M624.6,1572 L624.6,1712"/>
<path d="M802.7,1523 L802.7,1563"/>
<path d="M988.7,1563 L988.7,1639.7 L960,1639.7"/>
<path d="M1066.9,1709 L1066.9,1814" stroke="#7077ab"/>
<path d="M504.9,1764 L504.9,1856" stroke="#8389b3"/>
</g>
<g fill="#5a64b0"><circle cx="624.6" cy="1716" r="4.6"/><circle cx="956.5" cy="1639.7" r="4.2"/><circle cx="1066.9" cy="1817.5" r="3.6" fill="#8088c8"/></g>
</g>
<g id="doc">
<!-- coat: zoom origin (620,1540) scale 1/2.925 -->
<g transform="translate(620,1540) scale(.34188)">
<path d="M340,715 C250,760 160,800 110,850 C70,900 50,1000 40,1250 L1040,1250 C1030,1050 1010,900 960,820 C900,770 760,720 665,690 L520,830Z" fill="url(#gCoat)"/>
<path d="M345,560 L340,715 L520,1130 L560,980 L665,690 L640,560Z" fill="url(#gShirt)"/>
<path d="M520,830 L470,900 L560,1000 L600,930Z" fill="#c9d8f3" opacity=".8"/>
<!-- neck + face -->
<path d="M385,560 L380,660 L520,830 L612,640 L590,560Z" fill="url(#gFace)"/>
<path d="M400,250 L560,240 L640,320 L640,410 C630,480 600,530 590,565 C560,610 520,640 490,640 C450,630 410,600 385,560 C360,500 348,430 352,370Z" fill="#f3a28c"/>
<path d="M385,560 C410,600 450,630 490,640 C520,640 560,610 590,565 L600,610 C570,650 530,670 495,672 C450,665 405,630 383,600Z" fill="#ee9580" opacity=".7"/>
<ellipse cx="338" cy="412" rx="26" ry="31" fill="#f3a28c"/><ellipse cx="340" cy="413" rx="9" ry="13" fill="#e2645c"/>
<ellipse cx="657" cy="366" rx="26" ry="31" fill="#f3a28c"/><ellipse cx="652" cy="368" rx="9" ry="13" fill="#e2645c"/>
<!-- hair -->
<path d="M579,62 C600,110 615,160 624,200 L606,213 C620,250 630,290 636,324 L564,240 C510,250 450,256 396,255 L353,370 C335,335 322,290 326,262 C328,240 332,225 337,214 C420,172 500,118 579,62Z" fill="#0d1230"/>
<!-- mask -->
<g fill="none" stroke="#fcfcfe" stroke-width="12" stroke-linecap="round"><path d="M445,425 L350,383"/><path d="M440,470 L360,455"/><path d="M568,420 L646,338"/><path d="M580,440 L640,405"/></g>
<path d="M508,360 C565,360 594,420 592,470 C589,522 552,550 508,550 C462,550 429,522 426,470 C424,420 452,360 508,360Z" fill="#fdfdff"/>
<path d="M470,400 C490,380 520,380 540,400" fill="none" stroke="#e3e6f0" stroke-width="7" stroke-linecap="round"/>
<path d="M450,470 C490,480 520,480 562,470 M455,500 C490,510 520,510 558,500" fill="none" stroke="#eceef5" stroke-width="4"/>
</g>
<!-- left hand + sleeve : origin (420,1620) scale 1/3.441 -->
<g transform="translate(420,1620) scale(.29061)">
<path d="M195,672 C215,660 240,662 255,672 L370,735 L378,672 C395,665 410,672 418,685 L520,800 L552,885 L412,912 L300,800Z" fill="url(#gHandL)"/>
<path d="M250,800 L300,790 L420,905 L560,880 L660,990 L600,1160 L250,1160Z" fill="#f8fafe"/>
</g>
<!-- right hand -->
<g transform="translate(900,1600) scale(.23077)">
<path d="M495,1210 L500,1100 C520,1050 560,1000 640,900 C650,895 658,900 658,910 L662,1000 L860,858 C872,855 880,865 874,875 L800,1020 L720,1130 L682,1215Z" fill="url(#gHandR)"/>
<path d="M340,1275 L400,1275 L470,1205 L690,1205 L650,1400 L340,1400Z" fill="#f9fafe"/>
</g>
</g>
<g id="icons">
<!-- icon1: social distancing. zoom origin (550,1440) scale 1/7.3125 -->
<circle cx="624.6" cy="1518.5" r="54.5" fill="#e1e9f7"/>
<g transform="translate(550,1440) scale(.13675)">
<clipPath id="c1"><circle cx="545.5" cy="574" r="396"/></clipPath>
<g clip-path="url(#c1)">
<g id="w1">
<path d="M255,960 C270,800 305,660 350,628 L385,618 L440,632 L472,620 C520,700 548,800 552,960Z" fill="#7fa6de"/>
<path d="M400,760 L535,880 L520,960 L375,960Z" fill="#6db3ec"/>
<path d="M378,905 L505,895 L515,960 L365,960Z" fill="#1b80cf"/>
<path d="M380,545 L445,560 L442,628 L385,622Z" fill="#f2a88c"/>
<path d="M372,490 L455,455 L468,520 L450,575 L410,600 L380,570Z" fill="#f6b59a"/>
<path d="M395,512 C415,500 440,498 462,502 L462,535 C450,552 425,558 405,548Z" fill="#fff"/>
<circle cx="322" cy="400" r="66" fill="#4b5cb0"/>
<path d="M280,455 C320,400 420,400 458,452 L455,470 C420,470 390,490 385,530 L355,560 C320,545 290,500 280,455Z" fill="#4b5cb0"/>
</g>
<use href="#w1" transform="translate(1135,-28) scale(-1,1)"/>
</g>
<path d="M400,350 L730,350" stroke="#4d5690" stroke-width="9" stroke-dasharray="38 20" fill="none"/><path d="M400,322 L400,378 M730,322 L730,378" stroke="#4d5690" stroke-width="9"/>
</g>
<use href="#chk" width="32" height="32" transform="translate(624.5,1468.4) scale(.86) translate(-16,-16)"/>
<!-- icon2: two men, zoom origin (430,1630) scale 1/7.3125 -->
<circle cx="504.9" cy="1710.7" r="53.3" fill="#e1e9f7"/>
<g transform="translate(430,1630) scale(.13675)">
<clipPath id="c2"><circle cx="548" cy="590" r="389"/></clipPath>
<g clip-path="url(#c2)">
<path d="M185,735 C205,690 250,672 295,680 L500,690 L640,686 L850,672 C890,672 915,700 925,735 L925,1000 L185,1000Z" fill="#7b80c4"/>
<path id="col1" d="M292,692 L322,668 L338,742 L442,640 L502,690 L362,788 L336,748 L296,772Z" fill="#fbfcff"/>
<use href="#col1" transform="translate(1134,0) scale(-1,1)"/>
<g id="m1">
<path d="M275,395 C295,400 320,395 345,380 C370,400 400,420 420,440 L430,500 L447,505 L442,642 L336,742 L322,680 L326,600 L276,572 L265,520 L270,470Z" fill="#f8d5c3"/>
<path d="M326,600 L402,560 L382,622 L340,652Z" fill="#f2b7a5"/>
<path d="M262,515 C300,505 340,510 370,520 L378,560 C360,590 320,606 290,598 L270,572Z" fill="#fff"/>
<path d="M270,345 C280,310 340,295 400,320 C450,340 470,380 465,420 L447,505 L430,500 L420,440 C400,420 370,400 345,380 C320,395 295,400 275,395 C268,380 266,360 270,345Z" fill="#1d2038"/>
</g>
<use href="#m1" transform="translate(390,-3)"/>
</g></g>
<use href="#chk" width="32" height="32" transform="translate(507,1654.3) scale(.83) translate(-16,-16)"/>
<!-- icon3: mask woman, zoom origin (730,1390) scale 1/7.3125 -->
<circle cx="803.5" cy="1461.2" r="55" fill="#d3dcee"/><circle cx="803.5" cy="1461.2" r="53.2" fill="#e2eaf8"/>
<g transform="translate(730,1390) scale(.13675)">
<clipPath id="c3"><circle cx="537.5" cy="520.6" r="389"/></clipPath>
<g clip-path="url(#c3)">
<path d="M365,880 C380,810 430,765 510,750 L560,785 L640,740 C700,760 745,810 762,870 L770,930 L360,930Z" fill="#7fa6de"/>
<path d="M512,630 L602,655 L608,700 L642,748 L565,792 L505,758Z" fill="#f2a88c"/>
<circle cx="458" cy="592" r="26" fill="#f6b59a"/>
<path d="M545,545 L652,472 L668,540 L662,600 L640,645 L600,668 L545,640Z" fill="#f6b59a"/>
<path d="M546,568 C590,540 640,534 670,540 L668,600 C650,628 600,636 556,622Z" fill="#fff"/>
<ellipse cx="405" cy="345" rx="110" ry="125" transform="rotate(-12 405 345)" fill="#4b5cb0"/>
<path d="M440,470 C480,380 600,370 650,450 L656,482 C610,470 570,500 556,552 L520,575 L478,640 C450,630 425,600 420,560 C415,530 425,500 440,470Z" fill="#4b5cb0"/>
</g></g>
<use href="#chk" width="32" height="32" transform="translate(847.7,1426) scale(.9) translate(-16,-16)"/>
<!-- icon4: hands, zoom origin (920,1430) scale 1/7.3125 -->
<circle cx="984.3" cy="1506.6" r="55.4" fill="#dfe8f6"/>
<g transform="translate(920,1430) scale(.13675)">
<path d="M75,455 C100,445 130,470 140,500 L180,560 L250,380 L298,215 C308,192 326,198 328,225 L335,370 L380,235 C392,205 414,212 412,240 L400,400 L470,275 C488,245 510,258 502,290 L470,420 L525,350 C545,335 556,350 548,375 L500,520 L420,600 L300,640 L310,790 C260,780 210,730 180,660 C140,570 100,510 75,455Z" fill="#ee8474"/>
<g fill="#e6e3ef"><circle cx="285" cy="500" r="105"/><circle cx="420" cy="545" r="75"/><circle cx="350" cy="690" r="70"/><circle cx="480" cy="500" r="40" fill="#f1f2f9"/><circle cx="210" cy="450" r="38" fill="#f1f2f9"/></g>
<path d="M395,595 C415,585 440,610 455,650 L490,685 L600,530 L670,415 C685,395 702,410 692,435 L640,600 L740,455 C760,430 786,445 770,475 L700,650 L825,510 C845,490 866,505 850,535 L765,700 L855,605 C872,590 886,605 875,625 L760,850 C720,920 660,975 600,975 C530,975 450,930 430,850 C410,770 390,680 395,595Z" fill="#f08878"/>
</g>
<use href="#chk" width="32" height="32" transform="translate(1017.1,1461.5) scale(1.03) translate(-16,-16)"/>
<!-- icon5: phone -->
<circle cx="1068.4" cy="1674.8" r="52.6" fill="#e5ecf9"/>
<g transform="translate(1086.7,1661.8) rotate(27.5)">
<rect x="-23" y="-47" width="46" height="94" rx="7" fill="#ccdaf5" stroke="#5560b5" stroke-width="3"/>
<path d="M-11,-47 L-8.5,-41.5 L8.5,-41.5 L11,-47Z" fill="#5560b5"/>
<path d="M-4.1,-17.6 h8.2 v7.9 h7.9 v8.2 h-7.9 v7.9 h-8.2 v-7.9 h-7.9 v-8.2 h7.9Z" fill="#5560b5"/>
<rect x="-16" y="22" width="25" height="10.5" rx="3" fill="#b6caee"/>
<circle cx="16.5" cy="27" r="3.2" fill="#f4f6fb"/>
</g>
<use href="#chk" width="32" height="32" transform="translate(1043.1,1643.4) scale(1.02) translate(-16,-16)"/>
</g>
<rect x="400" y="1825" width="770" height="130" fill="url(#gBottom)"/><path d="M526,1920 L544,1920 L548,1946 L526,1946Z" fill="#e9e9f5"/><path d="M445,1942 C460,1905 510,1905 522,1942Z" fill="#f2f5fb"/>

</svg>
<h1>SỐ CA COVID-19 TẠI TP.HCM</h1>
<div id="sub"><span>Từ ngày 15-5 đến 15-6-2022</span></div>
<div id="ngay">NGÀY</div>
<div id="axis"></div>
<div class="d" style="top:220.1px"><i>1</i>5-5</div><div class="b" style="top:220.1px;width:207.5px"></div><div class="v" style="top:220.1px;left:344.1px">25</div>
<div class="d" style="top:275.06px"><i>1</i>6-5</div><div class="b" style="top:275.06px;width:157.7px"></div><div class="v" style="top:275.06px;left:294.3px"><i>1</i>9</div>
<div class="d" style="top:330.03px"><i>1</i>7-5</div><div class="b" style="top:330.03px;width:298.8px"></div><div class="v" style="top:330.03px;left:435.4px">36</div>
<div class="d" style="top:385.0px"><i>1</i>8-5</div><div class="b" style="top:385.0px;width:373.5px"></div><div class="v" style="top:385.0px;left:510.1px">45</div>
<div class="d" style="top:439.96px"><i>1</i>9-5</div><div class="b" style="top:439.96px;width:381.8px"></div><div class="v" style="top:439.96px;left:518.4px">46</div>
<div class="d" style="top:494.93px">20-5</div><div class="b" style="top:494.93px;width:257.3px"></div><div class="v" style="top:494.93px;left:393.9px">3<i class="s">1</i></div>
<div class="d" style="top:549.89px">2<i>1</i>-5</div><div class="b" style="top:549.89px;width:273.9px"></div><div class="v" style="top:549.89px;left:410.5px">33</div>
<div class="d" style="top:604.86px">22-5</div><div class="b" style="top:604.86px;width:67.5px"></div><div class="v" style="top:604.86px;left:204.1px"><i>1</i>2</div>
<div class="d" style="top:659.82px">23-5</div><div class="b" style="top:659.82px;width:44.8px"></div><div class="v" style="top:659.82px;left:181.4px">8</div>
<div class="d" style="top:714.79px">24-5</div><div class="b" style="top:714.79px;width:182.6px"></div><div class="v" style="top:714.79px;left:319.2px">22</div>
<div class="d" style="top:769.75px">25-5</div><div class="b" style="top:769.75px;width:290.5px"></div><div class="v" style="top:769.75px;left:427.1px">35</div>
<div class="d" style="top:824.72px">26-5</div><div class="b" style="top:824.72px;width:307.1px"></div><div class="v" style="top:824.72px;left:443.7px">37</div>
<div class="d" style="top:879.68px">27-5</div><div class="b" style="top:879.68px;width:249.0px"></div><div class="v" style="top:879.68px;left:385.6px">30</div>
<div class="d" style="top:934.65px">28-5</div><div class="b" style="top:934.65px;width:257.3px"></div><div class="v" style="top:934.65px;left:393.9px">3<i class="s">1</i></div>
<div class="d" style="top:989.61px">29-5</div><div class="b" style="top:989.61px;width:149.4px"></div><div class="v" style="top:989.61px;left:286.0px"><i>1</i>8</div>
<div class="d" style="top:1044.58px">30-5</div><div class="b" style="top:1044.58px;width:91.3px"></div><div class="v" style="top:1044.58px;left:227.9px"><i>1</i><i class="s">1</i></div>
<div class="d" style="top:1099.54px">3<i>1</i>-5</div><div class="b" style="top:1099.54px;width:265.6px"></div><div class="v" style="top:1099.54px;left:402.2px">32</div>
<div class="d" style="top:1154.51px"><i>1</i>-6</div><div class="b" style="top:1154.51px;width:215.8px"></div><div class="v" style="top:1154.51px;left:352.4px">26</div>
<div class="d" style="top:1209.47px">2-6</div><div class="b" style="top:1209.47px;width:215.8px"></div><div class="v" style="top:1209.47px;left:352.4px">26</div>
<div class="d" style="top:1264.43px">3-6</div><div class="b" style="top:1264.43px;width:182.6px"></div><div class="v" style="top:1264.43px;left:319.2px">22</div>
<div class="d" style="top:1319.4px">4-6</div><div class="b" style="top:1319.4px;width:182.6px"></div><div class="v" style="top:1319.4px;left:319.2px">22</div>
<div class="d" style="top:1374.37px">5-6</div><div class="b" style="top:1374.37px;width:68.3px"></div><div class="v" style="top:1374.37px;left:204.9px"><i>1</i>0</div>
<div class="d" style="top:1429.33px">6-6</div><div class="b" style="top:1429.33px;width:232.4px"></div><div class="v" style="top:1429.33px;left:369.0px">28</div>
<div class="d" style="top:1484.3px">7-6</div><div class="b" style="top:1484.3px;width:290.5px"></div><div class="v" style="top:1484.3px;left:427.1px">35</div>
<div class="d" style="top:1539.26px">8-6</div><div class="b" style="top:1539.26px;width:215.8px"></div><div class="v" style="top:1539.26px;left:352.4px">26</div>
<div class="d" style="top:1594.22px">9-6</div><div class="b" style="top:1594.22px;width:190.9px"></div><div class="v" style="top:1594.22px;left:327.5px">23</div>
<div class="d" style="top:1649.19px"><i>1</i>0-6</div><div class="b" style="top:1649.19px;width:157.7px"></div><div class="v" style="top:1649.19px;left:294.3px"><i>1</i>9</div>
<div class="d" style="top:1704.15px"><i>1</i><i>1</i>-6</div><div class="b" style="top:1704.15px;width:182.6px"></div><div class="v" style="top:1704.15px;left:319.2px">22</div>
<div class="d" style="top:1759.12px"><i>1</i>2-6</div><div class="b" style="top:1759.12px;width:132.8px"></div><div class="v" style="top:1759.12px;left:269.4px"><i>1</i>6</div>
<div class="d" style="top:1814.09px"><i>1</i>3-6</div><div class="b" style="top:1814.09px;width:41.5px"></div><div class="v" style="top:1814.09px;left:178.1px">5</div>
<div class="d" style="top:1869.05px"><i>1</i>4-6</div><div class="b" style="top:1869.05px;width:157.7px"></div><div class="v" style="top:1869.05px;left:294.3px"><i>1</i>9</div>
<div class="d" style="top:1924.02px"><i>1</i>5-6</div><div class="b" style="top:1924.02px;width:174.3px"></div><div class="v" style="top:1924.02px;left:310.9px">2<i class="s">1</i></div>
<div id="logo"><b>tuổi trẻ</b><i>online</i></div>
<div id="btm"></div>
</body></html>
